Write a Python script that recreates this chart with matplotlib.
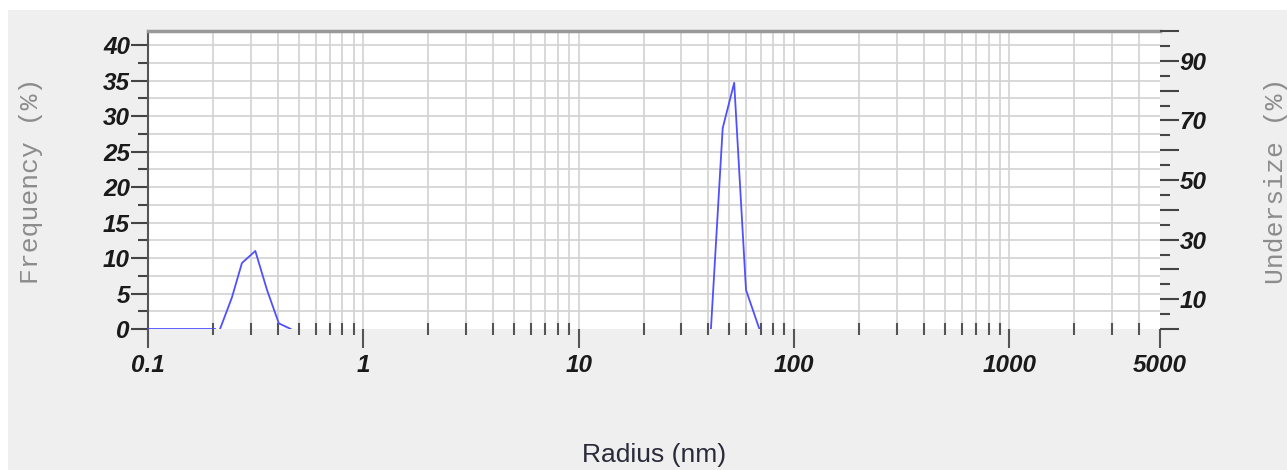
import numpy as np
import matplotlib
matplotlib.use("Agg")
import matplotlib.pyplot as plt
from matplotlib.patches import Rectangle
from matplotlib.ticker import FixedLocator, NullFormatter


# Data

# flat zero part at the start
base_radius = [0.1, 0.205]
base_freq = [0, 0]

# small peak
peak1_radius = [0.216, 0.245, 0.273, 0.315, 0.357, 0.405, 0.46]
peak1_freq = [0, 4.4, 9.3, 11.0, 5.5, 0.8, 0]

# large peak
peak2_radius = [41.1, 46.6, 52.7, 59.8, 69.0]
peak2_freq = [0, 28.3, 34.7, 5.5, 0]

x_tick_values = [0.1, 1, 10, 100, 1000, 5000]
x_tick_labels = ["0.1", "1", "10", "100", "1000", "5000"]
left_ticks = [0, 5, 10, 15, 20, 25, 30, 35, 40]
right_labels = [10, 30, 50, 70, 90]


# Figure

W, H = 1287, 470
fig = plt.figure(figsize=(W / 100, H / 100), dpi=100, facecolor="white")
fig.add_artist(Rectangle((8 / W, 0), 1 - 8 / W, (H - 10) / H,
                         transform=fig.transFigure, facecolor="#efefef",
                         edgecolor="none", zorder=-10))

ax = fig.add_axes([148 / W, (H - 329) / H, (1160 - 148) / W, (329 - 31) / H])
ax.set_facecolor("white")
ax.set_xscale("log")
ax.set_xlim(0.1, 5000)
ax.set_ylim(0, 42)

# vertical grid at every log step
grid_x = []
for dec in [0.1, 1, 10, 100, 1000]:
    for m in range(1, 10):
        v = dec * m
        if 0.1 < v < 5000:
            grid_x.append(v)
for v in grid_x:
    ax.axvline(v, color="#d2d2d2", lw=1.2, zorder=0)
for v in np.arange(2.5, 42, 2.5):
    ax.axhline(v, color="#d2d2d2", lw=1.2, zorder=0)

line_kw = dict(color="#5050ff", lw=1.3, zorder=3)
ax.plot(base_radius, base_freq, **line_kw)
ax.plot(peak1_radius, peak1_freq, **line_kw)
ax.plot(peak2_radius, peak2_freq, **line_kw)

tick_font = dict(family="Liberation Sans", size=17.5, weight="bold", style="italic",
                 color="#1a1a1a")

# x axis ticks
ax.xaxis.set_major_locator(FixedLocator(x_tick_values))
ax.set_xticklabels(x_tick_labels, fontdict=tick_font)
ax.xaxis.set_minor_locator(FixedLocator([v for v in grid_x if v not in x_tick_values]))
ax.xaxis.set_minor_formatter(NullFormatter())
ax.tick_params(axis="x", which="major", direction="out", length=14, width=1.5,
               color="#555555", pad=4)
ax.tick_params(axis="x", which="minor", direction="inout", length=9, width=1.5,
               color="#555555")

# left y axis
ax.set_yticks(left_ticks)
ax.set_yticklabels([str(v) for v in left_ticks], fontdict=tick_font)
ax.yaxis.set_minor_locator(FixedLocator(np.arange(2.5, 42, 5)))
ax.tick_params(axis="y", which="major", direction="out", length=12, width=1.5,
               color="#444444", pad=1)
ax.tick_params(axis="y", which="minor", direction="out", length=7, width=1.5,
               color="#444444")

for s in ["right", "bottom"]:
    ax.spines[s].set_visible(False)
ax.spines["left"].set_color("#555555")
ax.spines["left"].set_linewidth(1.5)
ax.spines["top"].set_color("#999999")
ax.spines["top"].set_linewidth(2.5)

# right y axis
ax2 = ax.twinx()
ax2.set_ylim(0, 100)
ax2.set_yticks(np.arange(0, 101, 10))
ax2.set_yticklabels([str(v) if v in right_labels else "" for v in range(0, 101, 10)],
                    fontdict=tick_font)
ax2.yaxis.set_minor_locator(FixedLocator(np.arange(5, 100, 10)))
ax2.tick_params(axis="y", which="major", direction="out", length=14, width=1.5,
                color="#444444", pad=0)
ax2.tick_params(axis="y", which="minor", direction="out", length=7, width=1.5,
                color="#444444")
for s in ax2.spines.values():
    s.set_visible(False)

# axis titles
fig.text(31 / W, 1 - 181 / H, "Frequency (%)", rotation=90, ha="center", va="center",
         family="Liberation Mono", size=19, color="#8c8c8c")
fig.text(1276 / W, 1 - 181 / H, "Undersize (%)", rotation=90, ha="center", va="center",
         family="Liberation Mono", size=19, color="#8c8c8c")
fig.text(654 / W, 1 - 455 / H, "Radius (nm)", ha="center", va="center",
         family="Liberation Sans", size=19, color="#2a2a3a")

fig.savefig("out.png", dpi=100)
